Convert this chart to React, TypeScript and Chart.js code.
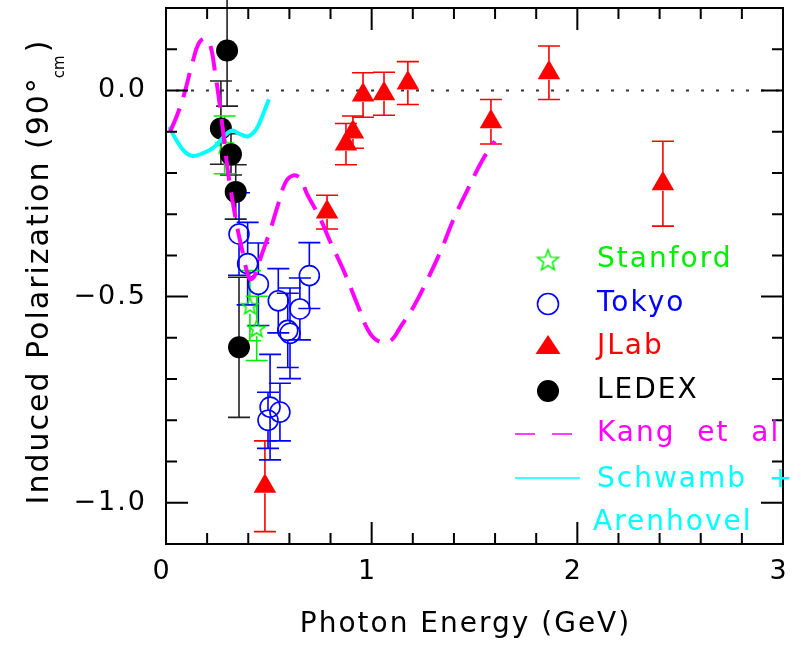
import React, { useEffect, useRef } from "react";
import { Chart, registerables } from "chart.js";

Chart.register(...registerables);

// ---------------- data ----------------
const xTickValues = [0, 1, 2, 3];
const xTickLabels = ["0", "1", "2", "3"];
const yTickValues = [-1.0, -0.5, 0.0];
const yTickLabels = ["\u22121.0", "\u22120.5", "0.0"];

const stanfordE = [0.285, 0.408, 0.441];
const stanfordP = [-0.132, -0.522, -0.577];
const stanfordErr = [0.07, 0.085, 0.078];

const tokyoE = [0.355, 0.397, 0.449, 0.546, 0.697, 0.651, 0.592, 0.603, 0.506, 0.554, 0.496];
const tokyoP = [-0.348, -0.42, -0.47, -0.51, -0.449, -0.53, -0.582, -0.589, -0.768, -0.78, -0.8];
const tokyoErr = [0.1, 0.1, 0.1, 0.078, 0.08, 0.075, 0.09, 0.11, 0.128, 0.07, 0.068];

const jlabE = [0.481, 0.783, 0.875, 0.909, 0.958, 1.06, 1.176, 1.58, 1.862, 2.416];
const jlabP = [-0.96, -0.295, -0.13, -0.101, -0.011, -0.008, 0.018, -0.076, 0.043, -0.226];
const jlabErr = [0.11, 0.041, 0.05, 0.039, 0.054, 0.052, 0.052, 0.054, 0.065, 0.103];

const ledexE = [0.297, 0.267, 0.316, 0.339, 0.355];
const ledexP = [0.097, -0.092, -0.155, -0.246, -0.623];
const ledexErrLow = [0.135, 0.087, 0.05, 0.066, 0.17];
const ledexErrHigh = [0.3, 0.115, 0.05, 0.066, 0.17];

const kangE = [0.02, 0.05, 0.085, 0.13, 0.16, 0.19, 0.215, 0.238, 0.26, 0.28, 0.301, 0.326, 0.35, 0.374, 0.394, 0.41, 0.43, 0.457, 0.506, 0.54, 0.579, 0.613, 0.651, 0.685, 0.749, 0.797, 0.87, 0.933, 0.992, 1.05, 1.099, 1.138, 1.201, 1.269, 1.342, 1.395, 1.463, 1.541, 1.599];
const kangP = [-0.1, -0.065, -0.015, 0.07, 0.115, 0.126, 0.11, 0.046, -0.03, -0.11, -0.196, -0.275, -0.341, -0.395, -0.44, -0.458, -0.45, -0.41, -0.34, -0.285, -0.225, -0.207, -0.212, -0.25, -0.31, -0.365, -0.444, -0.522, -0.589, -0.611, -0.604, -0.575, -0.527, -0.461, -0.382, -0.316, -0.244, -0.167, -0.123];

const schwambE = [0.015, 0.05, 0.09, 0.13, 0.175, 0.228, 0.27, 0.3, 0.325, 0.36, 0.4, 0.44, 0.47, 0.5];
const schwambP = [-0.088, -0.12, -0.148, -0.159, -0.153, -0.14, -0.118, -0.103, -0.097, -0.106, -0.111, -0.093, -0.06, -0.022];

const xTitle = "Photon Energy (GeV)";
const yTitleMain = "Induced Polarization (90\u00b0";
const yTitleSub = "cm";
const yTitleTail = ")";

// ---------------- styles ----------------
const GREEN = "#00ee00";
const BLUE = "#0000ff";
const RED = "#ff0000";
const BLACK = "#000000";
const MAGENTA = "#ff00ff";
const CYAN = "#00ffff";
const FONT = '"DejaVu Sans", sans-serif';

function makeStar(outer: number, lw: number, color: string) {
  const size = Math.ceil(outer * 2 + lw * 2 + 2);
  const c = document.createElement("canvas");
  c.width = size;
  c.height = size;
  const g = c.getContext("2d")!;
  const cx = size / 2;
  const cy = size / 2 + outer * 0.08;
  const inner = outer * 0.42;
  g.beginPath();
  for (let k = 0; k < 10; k++) {
    const r = k % 2 === 0 ? outer : inner;
    const a = -Math.PI / 2 + (k * Math.PI) / 5;
    const px = cx + r * Math.cos(a);
    const py = cy + r * Math.sin(a);
    if (k === 0) g.moveTo(px, py);
    else g.lineTo(px, py);
  }
  g.closePath();
  g.strokeStyle = color;
  g.lineWidth = lw;
  g.stroke();
  return c;
}

const pts = (xs: number[], ys: number[]) => xs.map((x, i) => ({ x, y: ys[i] }));

export default function App() {
  const ref = useRef<HTMLCanvasElement>(null);

  useEffect(() => {
    const canvas = ref.current!;
    const starSmall = makeStar(9, 1.5, GREEN);
    const starLegend = makeStar(11, 1.5, GREEN);

    const letterSpacingPlugin = {
      id: "letterSpacing",
      beforeDraw(chart: any) {
        chart.ctx.letterSpacing = "2px";
      },
    };

    const backgroundPlugin = {
      id: "bgLines",
      beforeDatasetsDraw(chart: any) {
        const { ctx, chartArea: ca, scales } = chart;
        const y = scales.y;
        const x = scales.x;
        ctx.save();
        ctx.strokeStyle = "#333";
        ctx.lineWidth = 2;
        ctx.setLineDash([3, 12]);
        const y0 = y.getPixelForValue(0);
        ctx.beginPath();
        ctx.moveTo(ca.left + 10, y0);
        ctx.lineTo(ca.right, y0);
        ctx.stroke();
        ctx.setLineDash([]);
        chart.data.datasets.forEach((ds: any) => {
          if (!ds.errLow) return;
          ctx.strokeStyle = ds.errColor;
          ctx.lineWidth = 1.6;
          const cap = 11;
          ds.data.forEach((p: any, j: number) => {
            const px = x.getPixelForValue(p.x);
            const py = y.getPixelForValue(p.y);
            const top = y.getPixelForValue(p.y + ds.errHigh[j]);
            const bot = y.getPixelForValue(p.y - ds.errLow[j]);
            const gTop = ds.errGapTop;
            const gBot = ds.errGapBot;
            ctx.beginPath();
            if (top < py - gTop) {
              ctx.moveTo(px, py - gTop);
              ctx.lineTo(px, top);
            }
            if (bot > py + gBot) {
              ctx.moveTo(px, py + gBot);
              ctx.lineTo(px, bot);
            }
            ctx.moveTo(px - cap, top);
            ctx.lineTo(px + cap, top);
            ctx.moveTo(px - cap, bot);
            ctx.lineTo(px + cap, bot);
            ctx.stroke();
          });
        });
        ctx.restore();
      },
    };

    const framePlugin = {
      id: "frame",
      afterDatasetsDraw(chart: any) {
        const { ctx, chartArea: ca, scales } = chart;
        const x = scales.x;
        const y = scales.y;
        ctx.save();
        ctx.strokeStyle = "#000";
        ctx.lineWidth = 2;
        ctx.strokeRect(ca.left, ca.top, ca.right - ca.left, ca.bottom - ca.top);
        ctx.beginPath();
        for (let i = 0; i <= 15; i++) {
          const px = x.getPixelForValue(i * 0.2);
          const len = i % 5 === 0 ? 22 : 11;
          ctx.moveTo(px, ca.bottom);
          ctx.lineTo(px, ca.bottom - len);
          ctx.moveTo(px, ca.top);
          ctx.lineTo(px, ca.top + len);
        }
        for (let i = -11; i <= 2; i++) {
          const py = y.getPixelForValue(i * 0.1);
          const len = i % 5 === 0 ? 22 : 11;
          ctx.moveTo(ca.left, py);
          ctx.lineTo(ca.left + len, py);
          ctx.moveTo(ca.right, py);
          ctx.lineTo(ca.right - len, py);
        }
        ctx.stroke();
        ctx.restore();
      },
    };

    const legendPlugin = {
      id: "customLegend",
      afterDatasetsDraw(chart: any) {
        const { ctx, chartArea: ca } = chart;
        const sx = ca.left + 382;
        const tx = ca.left + 431;
        ctx.save();
        ctx.letterSpacing = "2px";
        ctx.font = `28px ${FONT}`;
        ctx.textBaseline = "middle";
        ctx.textAlign = "left";
        let yy = ca.top + 252;
        ctx.drawImage(starLegend, sx - starLegend.width / 2, yy - starLegend.height / 2);
        ctx.fillStyle = GREEN;
        ctx.fillText("Stanford", tx, yy);
        yy = ca.top + 296;
        ctx.strokeStyle = BLUE;
        ctx.lineWidth = 1.6;
        ctx.beginPath();
        ctx.arc(sx, yy, 10.5, 0, Math.PI * 2);
        ctx.stroke();
        ctx.fillStyle = BLUE;
        ctx.fillText("Tokyo", tx, yy);
        yy = ca.top + 338;
        ctx.fillStyle = RED;
        ctx.beginPath();
        ctx.moveTo(sx, yy - 11);
        ctx.lineTo(sx - 12.5, yy + 8);
        ctx.lineTo(sx + 12.5, yy + 8);
        ctx.closePath();
        ctx.fill();
        ctx.fillText("JLab", tx, yy + 1);
        yy = ca.top + 383;
        ctx.fillStyle = BLACK;
        ctx.beginPath();
        ctx.arc(sx, yy, 11, 0, Math.PI * 2);
        ctx.fill();
        ctx.fillText("LEDEX", tx, yy);
        yy = ca.top + 426;
        ctx.strokeStyle = MAGENTA;
        ctx.lineWidth = 1.5;
        ctx.setLineDash([20, 17]);
        ctx.beginPath();
        ctx.moveTo(ca.left + 349, yy);
        ctx.lineTo(ca.left + 408, yy);
        ctx.stroke();
        ctx.setLineDash([]);
        ctx.fillStyle = MAGENTA;
        ctx.fillText("Kang  et  al", tx, yy);
        yy = ca.top + 470;
        ctx.strokeStyle = CYAN;
        ctx.beginPath();
        ctx.moveTo(ca.left + 349, yy);
        ctx.lineTo(ca.left + 414, yy);
        ctx.stroke();
        ctx.fillStyle = CYAN;
        ctx.fillText("Schwamb  +", tx, yy + 2);
        ctx.fillText("Arenhovel", tx - 4, ca.top + 515);
        ctx.restore();
      },
    };

    const titlesPlugin = {
      id: "titles",
      afterDraw(chart: any) {
        const { ctx, chartArea: ca } = chart;
        ctx.save();
        ctx.fillStyle = "#000";
        ctx.letterSpacing = "2px";
        ctx.font = `28px ${FONT}`;
        ctx.textAlign = "center";
        ctx.textBaseline = "middle";
        ctx.fillText(xTitle, (ca.left + ca.right) / 2 - 9, 625);
        ctx.translate(48, (ca.top + ca.bottom) / 2 - 4);
        ctx.rotate(-Math.PI / 2);
        ctx.textAlign = "left";
        ctx.textBaseline = "alphabetic";
        ctx.font = `30px ${FONT}`;
        const w1 = ctx.measureText(yTitleMain).width;
        const w3 = ctx.measureText(yTitleTail).width;
        ctx.font = `15px ${FONT}`;
        ctx.letterSpacing = "0px";
        const w2 = ctx.measureText(yTitleSub).width;
        const start = -(w1 + w2 + w3) / 2;
        ctx.font = `30px ${FONT}`;
        ctx.letterSpacing = "2px";
        ctx.fillText(yTitleMain, start, 0);
        ctx.fillText(yTitleTail, start + w1 + w2 + 1, 0);
        ctx.font = `15px ${FONT}`;
        ctx.letterSpacing = "0px";
        ctx.fillText(yTitleSub, start + w1 - 2, 16);
        ctx.restore();
      },
    };

    const chart = new Chart(canvas, {
      type: "scatter",
      data: {
        datasets: [
          {
            label: "Kang et al",
            data: pts(kangE, kangP),
            showLine: true,
            borderColor: MAGENTA,
            borderWidth: 4,
            borderDash: [25, 12],
            pointRadius: 0,
            tension: 0.4,
            fill: false,
          },
          {
            label: "Schwamb + Arenhovel",
            data: pts(schwambE, schwambP),
            showLine: true,
            borderColor: CYAN,
            borderWidth: 4,
            pointRadius: 0,
            tension: 0.4,
            fill: false,
          },
          {
            label: "LEDEX",
            data: pts(ledexE, ledexP),
            pointStyle: "circle",
            pointRadius: 11,
            backgroundColor: BLACK,
            borderColor: BLACK,
            borderWidth: 0,
            errLow: ledexErrLow,
            errHigh: ledexErrHigh,
            errColor: "#222",
            errGapTop: 0,
            errGapBot: 0,
          } as any,
          {
            label: "JLab",
            data: pts(jlabE, jlabP),
            pointStyle: "triangle",
            pointRadius: 13,
            backgroundColor: RED,
            borderColor: RED,
            borderWidth: 0,
            errLow: jlabErr,
            errHigh: jlabErr,
            errColor: RED,
            errGapTop: 12,
            errGapBot: 7,
          } as any,
          {
            label: "Tokyo",
            data: pts(tokyoE, tokyoP),
            pointStyle: "circle",
            pointRadius: 10,
            backgroundColor: "rgba(0,0,0,0)",
            borderColor: BLUE,
            borderWidth: 1.6,
            errLow: tokyoErr,
            errHigh: tokyoErr,
            errColor: BLUE,
            errGapTop: 10,
            errGapBot: 10,
          } as any,
          {
            label: "Stanford",
            data: pts(stanfordE, stanfordP),
            pointStyle: starSmall,
            pointRadius: 9,
            backgroundColor: GREEN,
            borderColor: GREEN,
            errLow: stanfordErr,
            errHigh: stanfordErr,
            errColor: GREEN,
            errGapTop: 9,
            errGapBot: 8,
          } as any,
        ],
      },
      options: {
        responsive: false,
        maintainAspectRatio: false,
        devicePixelRatio: 1,
        animation: false,
        events: [],
        layout: { autoPadding: false, padding: { top: 8, right: 18, left: 0, bottom: 0 } },
        plugins: {
          legend: { display: false },
          tooltip: { enabled: false },
        },
        scales: {
          x: {
            type: "linear",
            min: 0,
            max: 3,
            grid: { display: false, drawTicks: false },
            border: { display: false },
            afterBuildTicks: (s: any) => {
              s.ticks = xTickValues.map((v) => ({ value: v }));
            },
            afterFit: (s: any) => {
              s.height = 112;
              s.paddingLeft = 0;
              s.paddingRight = 0;
              s.paddingTop = 0;
              s.paddingBottom = 0;
            },
            ticks: {
              callback: (_v: any, i: number) => xTickLabels[i],
              color: "#000",
              font: { size: 27, family: FONT },
              padding: 12,
              labelOffset: -4,
              maxRotation: 0,
              autoSkip: false,
            },
          },
          y: {
            type: "linear",
            min: -1.1,
            max: 0.2,
            grid: { display: false, drawTicks: false },
            border: { display: false },
            afterBuildTicks: (s: any) => {
              s.ticks = yTickValues.map((v) => ({ value: v }));
            },
            afterFit: (s: any) => {
              s.width = 166;
              s.paddingLeft = 0;
              s.paddingRight = 0;
              s.paddingTop = 0;
              s.paddingBottom = 0;
            },
            ticks: {
              callback: (_v: any, i: number) => yTickLabels[i],
              color: "#000",
              font: { size: 27, family: FONT },
              padding: 19,
              autoSkip: false,
            },
          },
        },
      },
      plugins: [letterSpacingPlugin, backgroundPlugin, framePlugin, legendPlugin, titlesPlugin],
    } as any);

    return () => chart.destroy();
  }, []);

  return (
    <div style={{ position: "absolute", left: 0, top: 0, width: 801, height: 656, background: "#fff" }}>
      <canvas ref={ref} width={801} height={656} style={{ display: "block", width: 801, height: 656 }} />
    </div>
  );
}
